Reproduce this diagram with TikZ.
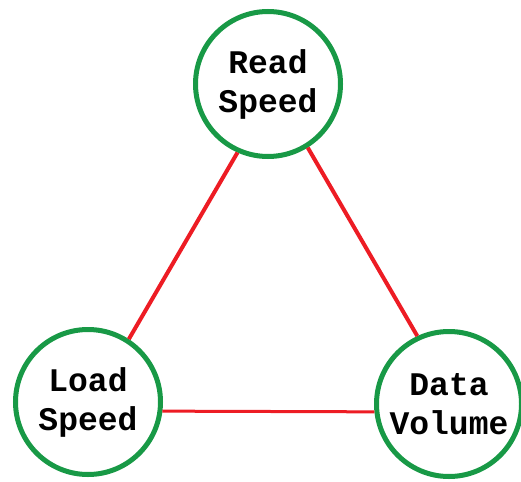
\documentclass[tikz,border=0pt]{standalone}
\usepackage{fontspec}
\newfontfamily\monofont{Liberation Mono}
\definecolor{ringgreen}{RGB}{24,153,70}
\definecolor{linkred}{RGB}{237,28,36}
\tikzset{
  ring/.style={circle, draw=ringgreen, line width=5pt, fill=white,
    minimum size=145pt, inner sep=0pt, align=center,
    font=\monofont\bfseries\fontsize{33}{39}\selectfont},
  link/.style={draw=linkred, line width=4pt},
}
\begin{document}
\begin{tikzpicture}[x=1pt,y=-1pt]
\useasboundingbox (0,0) rectangle (521,481);
\node[ring] (read) at (268,84) {Read\\Speed};
\node[ring] (load) at (88,402) {Load\\Speed};
\node[ring] (data) at (449,404) {Data\\Volume};
\draw[link] (read.246) -- (load.57);
\draw[link] (read.302) -- (data.115);
\draw[link, line width=3pt] (load.-7.6) -- (data.186);
\end{tikzpicture}
\end{document}
